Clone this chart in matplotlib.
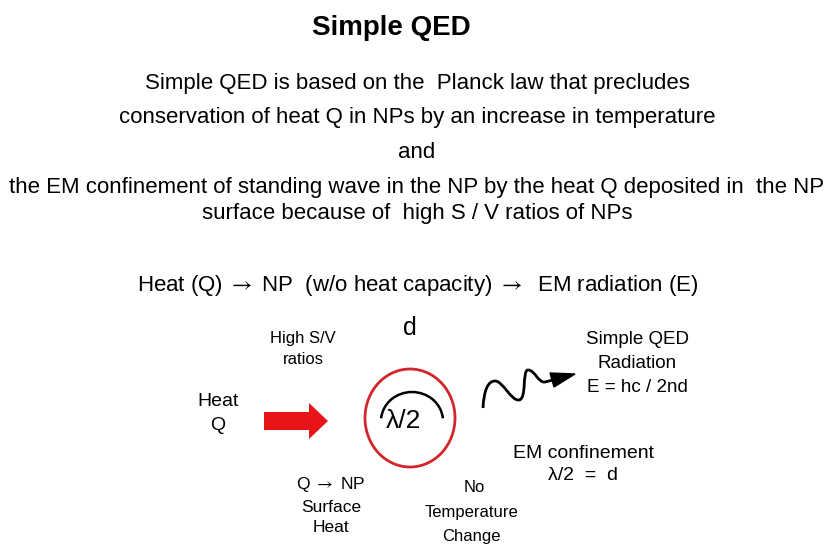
import matplotlib
matplotlib.use("Agg")
import matplotlib.pyplot as plt
from matplotlib.patches import Ellipse, Arc, FancyArrow, Polygon, PathPatch
from matplotlib.path import Path

plt.rcParams["font.family"] = ["Liberation Sans", "DejaVu Sans"]
plt.rcParams["mathtext.fontset"] = "stix"

ARROW = r"$\rightarrow$"
TITLE = "Simple QED"
INTRO_LINES = [
    "Simple QED is based on the  Planck law that precludes",
    "conservation of heat Q in NPs by an increase in temperature",
    "and",
    "the EM confinement of standing wave in the NP by the heat Q deposited in  the NP",
    "surface because of  high S / V ratios of NPs",
]
INTRO_Y = [84, 118, 153, 188, 214]
FLOW = f"Heat (Q) {ARROW} NP  (w/o heat capacity) {ARROW}  EM radiation (E)"

# diagram labels, one line each: (text, x, y, fontsize)
LABELS = [
    ("High S/V", 303, 339, 12),
    ("ratios", 303, 360, 12),
    ("Heat", 218, 401, 14),
    ("Q", 218, 425, 14),
    ("d", 410, 328, 18),
    ("\u03bb/2", 403, 421, 19),
    (f"Q {ARROW} NP", 331, 485, 12.5),
    ("Surface", 331, 507, 12.5),
    ("Heat", 331, 527, 12.5),
    ("No", 474, 487, 12),
    ("Temperature", 471, 512, 12),
    ("Change", 471, 537, 12),
    ("Simple QED", 637, 340, 13.5),
    ("Radiation", 637, 363, 13.5),
    ("E = hc / 2nd", 637, 387, 13.5),
    ("EM confinement", 583, 453, 14),
    ("\u03bb/2  =  d", 583, 476, 14),
]

RED = "#e8141a"
CIRCLE_RED = "#d3262c"

fig = plt.figure(figsize=(8.3, 5.44), dpi=100)
ax = fig.add_axes([0, 0, 1, 1])
ax.set_xlim(0, 830)
ax.set_ylim(544, 0)
ax.axis("off")

ax.text(391, 28, TITLE, ha="center", va="center", fontsize=20, fontweight="bold")
for line, y in zip(INTRO_LINES, INTRO_Y):
    ax.text(417, y, line, ha="center", va="center", fontsize=16)
ax.text(418, 285, FLOW, ha="center", va="center", fontsize=16)

for text, x, y, fs in LABELS:
    ax.text(x, y, text, ha="center", va="center", fontsize=fs)

# NP circle with standing half-wave
ax.add_patch(Ellipse((410, 418), 90, 98, fill=False, ec=CIRCLE_RED, lw=2))
ax.add_patch(Arc((412, 421), 62, 58, theta1=-175, theta2=-5, color="black", lw=1.8))

# heat arrow
ax.add_patch(FancyArrow(264, 421, 64, 0, width=18, head_width=36, head_length=19,
                        length_includes_head=True, color=RED, lw=0))

# wavy radiation arrow
verts = [(483, 408), (484, 390), (488, 381), (495, 381),
         (503, 381), (511, 401), (519, 400),
         (527, 399), (522, 370), (528, 370),
         (535, 370), (538, 383), (545, 382),
         (553, 380)]
codes = [Path.MOVETO] + [Path.CURVE4] * 12 + [Path.LINETO]
ax.add_patch(PathPatch(Path(verts, codes), fill=False, ec="black", lw=2))
ax.add_patch(Polygon([(550, 373), (575, 374), (554, 387)], closed=True, color="black"))

fig.savefig("out.png", dpi=100, facecolor="white")
